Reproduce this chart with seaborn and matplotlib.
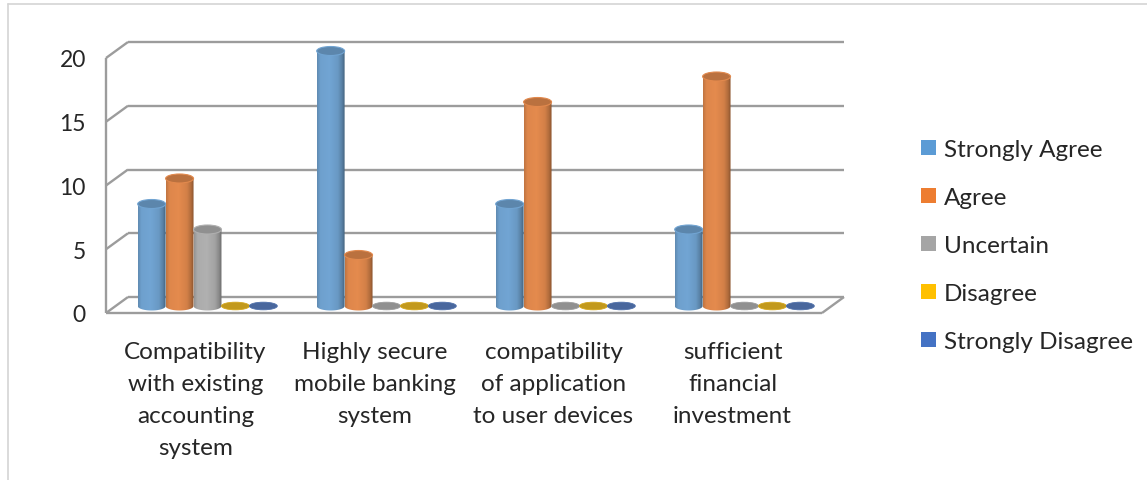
import numpy as np
import pandas as pd
import matplotlib
matplotlib.use("Agg")
import matplotlib.pyplot as plt
import seaborn as sns
from matplotlib.path import Path
from matplotlib.patches import Ellipse, Patch
from matplotlib.lines import Line2D
from matplotlib.colors import to_rgb

# ---- data -------------------------------------------------------------
categories = [
    "Compatibility\nwith existing\naccounting\nsystem",
    "Highly secure\nmobile banking\nsystem",
    "compatibility\nof application\nto user devices",
    "sufficient\nfinancial\ninvestment",
]
responses = ["Strongly Agree", "Agree", "Uncertain", "Disagree", "Strongly Disagree"]
strongly_agree = [8, 20, 8, 6]
agree = [10, 4, 16, 18]
uncertain = [6, 0, 0, 0]
disagree = [0, 0, 0, 0]
strongly_disagree = [0, 0, 0, 0]
y_ticks = [0, 5, 10, 15, 20]

colors = ["#5B9BD5", "#ED7D31", "#A5A5A5", "#FFC000", "#4472C4"]

series = [strongly_agree, agree, uncertain, disagree, strongly_disagree]
df = pd.DataFrame(
    [(cat, resp, vals[i])
     for resp, vals in zip(responses, series)
     for i, cat in enumerate(categories)],
    columns=["category", "response", "count"],
)

# ---- figure -----------------------------------------------------------
sns.set_style("white")
FONT = ["Lato", "DejaVu Sans"]
plt.rcParams["font.family"] = FONT
FS = 17.5
GRID = "#9c9c9c"

W, H = 1147, 481
YMAX = max(y_ticks)
YTOP = 22            # headroom above the top gridline for the cylinder caps
PX_PER_UNIT = 12.75
fig = plt.figure(figsize=(W / 100, H / 100), dpi=100)
ax = fig.add_axes([106 / W, 1 - 314 / H, 716 / W, YTOP * PX_PER_UNIT / H])

sns.barplot(data=df, x="category", y="count", hue="response",
            hue_order=responses, order=categories, palette=colors,
            width=0.78, dodge=True, errorbar=None, legend=False, ax=ax)
ax.set_xlim(-0.5, len(categories) - 0.5)
ax.set_ylim(0, YTOP)
for s in ax.spines.values():
    s.set_visible(False)
ax.set_xlabel("")
ax.set_ylabel("")

# pixel scale of the data units, used for the pseudo-3D depth
(x0p, y0p), (x1p, y1p) = ax.transData.transform([(0, 0), (1, 1)])
ux, uy = x1p - x0p, y1p - y0p
DX, DY = 22 / ux, 16 / uy          # depth of floor / back wall
BX, BY = 12 / ux, 7 / uy           # cylinders stand at mid depth
EH = 9 / uy                        # ellipse height of cylinder caps

xl, xr = ax.get_xlim()

# back wall, side wall and floor
wall = dict(color=GRID, lw=1.7, clip_on=False, zorder=1, solid_capstyle="butt")
for v in y_ticks:
    ax.plot([xl, xl + DX], [v, v + DY], **wall)
    ax.plot([xl + DX, xr + DX], [v + DY, v + DY], **wall)
ax.plot([xl, xl], [0, YMAX], **wall)
ax.plot([xl, xr], [0, 0], **wall)
ax.plot([xr, xr + DX], [0, DY], **wall)

# ticks
ax.set_yticks(y_ticks)
ax.set_yticklabels([str(v) for v in y_ticks], fontsize=16.5)
ax.tick_params(axis="y", length=6, width=1.5, color=GRID, pad=8.5)
ax.set_xticks(np.arange(len(categories) + 1) - 0.5)
ax.set_xticklabels([])
ax.tick_params(axis="x", which="major", length=6.5, width=1.5, color=GRID)
ax.set_xticks(np.arange(len(categories)), minor=True)
ax.set_xticklabels(categories, minor=True, fontsize=FS, linespacing=1.65)
ax.tick_params(axis="x", which="minor", length=0, pad=20)


def shade(c, f):
    """Scale a colour's brightness, keeping its saturation."""
    return np.clip(np.array(to_rgb(c)) * f, 0, 1)


# ---- cylinders built on the seaborn bars -----------------------------
stops = np.array([0.0, 0.12, 0.45, 0.75, 0.9, 1.0])
levels = [0.9, 1.04, 1.07, 0.99, 0.83, 0.64]
bars = sorted(list(ax.patches), key=lambda p: p.get_x())
for k, p in enumerate(bars):
    x0, w, h = p.get_x(), p.get_width(), p.get_height()
    c = p.get_facecolor()[:3]
    p.remove()
    bx, by = x0 + BX, BY
    xc = bx + w / 2
    z = 3 + k * 0.01
    cap = shade(c, 0.87)
    if h > 0:
        t = np.linspace(np.pi, 2 * np.pi, 40)
        arc = np.column_stack([xc + w / 2 * np.cos(t), by + EH / 2 * np.sin(t)])
        verts = np.vstack([[bx, by + h], [bx, by], arc, [bx + w, by],
                           [bx + w, by + h], [bx, by + h]])
        body = Path(verts, closed=True)
        cols = np.array([shade(c, f) for f in levels])
        xs = np.linspace(0, 1, 64)
        grad = np.stack([np.interp(xs, stops, cols[:, i]) for i in range(3)], axis=-1)
        grad = np.repeat(grad[None, :, :], 2, axis=0)
        im = ax.imshow(grad, extent=(bx, bx + w, by - EH, by + h), aspect="auto",
                       interpolation="bilinear", zorder=z)
        im.set_clip_path(body, transform=ax.transData)
        ax.add_patch(Ellipse((xc, by + h), w, EH, facecolor=cap,
                             edgecolor=shade(c, 1.06), lw=0.8, zorder=z + 0.005,
                             clip_on=False))
    else:
        ax.add_patch(Ellipse((xc, by), w, EH * 0.85, facecolor=cap,
                             edgecolor=shade(c, 0.95), lw=0.6, zorder=z,
                             clip_on=False))

ax.set_xlim(xl, xr)
ax.set_ylim(0, YTOP)

# ---- legend -----------------------------------------------------------
handles = [Patch(facecolor=c, edgecolor="none") for c in colors]
fig.legend(handles, responses, loc="upper left",
           bbox_to_anchor=(921 / W, 1 - 140 / H), frameon=False,
           fontsize=FS, handlelength=0.6, handleheight=0.6,
           handletextpad=0.35, labelspacing=1.11, borderpad=0,
           borderaxespad=0)

# outer chart frame
frame = dict(color="#d4d4d4", lw=1.2, transform=fig.transFigure)
fig.add_artist(Line2D([8 / W, 1], [1 - 5 / H, 1 - 5 / H], **frame))
fig.add_artist(Line2D([8 / W, 8 / W], [0, 1 - 5 / H], **frame))

fig.savefig("out.png", dpi=100)
